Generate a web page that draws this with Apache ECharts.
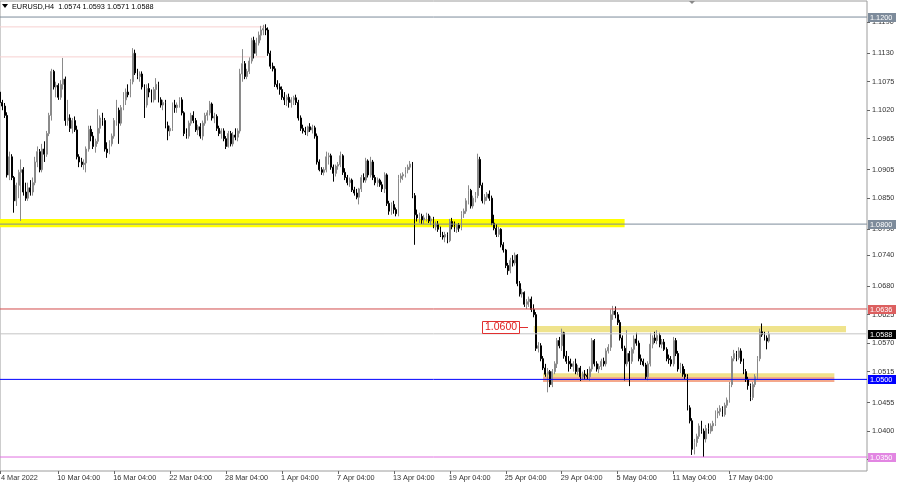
<!DOCTYPE html>
<html><head><meta charset="utf-8">
<script src="https://cdn.jsdelivr.net/npm/echarts@6/dist/echarts.min.js"></script>
<style>html,body{margin:0;padding:0;background:#fff}#c{width:900px;height:484px}</style>
</head><body><div id="c"></div>
<script>
const symbol = 'EURUSD';
const timeframe = 'H4';
// each row: [open, high, low, close], H4 bars from 4 Mar 2022 00:00
const ohlc = [
[1.1055,1.1060,1.1030,1.1035],[1.1035,1.1040,1.1020,1.1028],[1.1028,1.1034,1.1005,1.1010],[1.1010,1.1016,1.0890,1.0895],
[1.0895,1.0940,1.0885,1.0930],[1.0930,1.0935,1.0885,1.0890],[1.0890,1.0893,1.0822,1.0845],[1.0845,1.0880,1.0835,1.0875],
[1.0875,1.0905,1.0850,1.0900],[1.0900,1.0925,1.0806,1.0905],[1.0905,1.0910,1.0855,1.0862],[1.0862,1.0880,1.0845,1.0850],
[1.0850,1.0880,1.0845,1.0870],[1.0870,1.0885,1.0855,1.0862],[1.0862,1.0890,1.0855,1.0880],[1.0880,1.0930,1.0875,1.0920],
[1.0920,1.0950,1.0910,1.0940],[1.0940,1.0945,1.0900,1.0905],[1.0905,1.0955,1.0900,1.0945],[1.0945,1.0960,1.0920,1.0935],
[1.0935,1.0980,1.0930,1.0975],[1.0975,1.1015,1.0970,1.1010],[1.1010,1.1100,1.1000,1.1095],[1.1095,1.1098,1.1060,1.1065],
[1.1065,1.1075,1.1045,1.1068],[1.1068,1.1072,1.1040,1.1045],[1.1045,1.1078,1.1040,1.1070],[1.1070,1.1121,1.1060,1.1080],
[1.1080,1.1085,1.0990,1.1000],[1.1000,1.1040,1.0990,1.1005],[1.1005,1.1012,1.0978,1.0985],[1.0985,1.1005,1.0975,1.1000],
[1.1000,1.1008,1.0978,1.0982],[1.0982,1.0990,1.0925,1.0930],[1.0930,1.0935,1.0910,1.0920],[1.0920,1.0928,1.0910,1.0915],
[1.0915,1.0925,1.0905,1.0918],[1.0918,1.0950,1.0900,1.0945],[1.0945,1.0990,1.0940,1.0983],[1.0983,1.0990,1.0960,1.0970],
[1.0970,1.0978,1.0945,1.0950],[1.0950,1.0965,1.0938,1.0960],[1.0960,1.1022,1.0955,1.0985],[1.0985,1.1010,1.0975,1.1005],
[1.1005,1.1015,1.0990,1.1000],[1.1000,1.1005,1.0940,1.0945],[1.0945,1.0958,1.0928,1.0938],[1.0938,1.0962,1.0935,1.0955],
[1.0955,1.0975,1.0950,1.0970],[1.0970,1.1005,1.0965,1.1000],[1.1000,1.1040,1.0990,1.1020],[1.1020,1.1025,1.0955,1.0995],
[1.0995,1.1030,1.0990,1.1025],[1.1025,1.1055,1.1020,1.1040],[1.1040,1.1062,1.1030,1.1055],[1.1055,1.1070,1.1045,1.1050],
[1.1050,1.1080,1.1045,1.1075],[1.1075,1.1140,1.1070,1.1130],[1.1130,1.1137,1.1088,1.1092],[1.1092,1.1100,1.1080,1.1085],
[1.1085,1.1095,1.1075,1.1090],[1.1090,1.1095,1.1060,1.1065],[1.1065,1.1070,1.1005,1.1030],[1.1030,1.1070,1.1025,1.1062],
[1.1062,1.1072,1.1045,1.1055],[1.1055,1.1060,1.1035,1.1040],[1.1040,1.1065,1.1035,1.1060],[1.1060,1.1082,1.1040,1.1070],
[1.1070,1.1075,1.1035,1.1040],[1.1040,1.1045,1.1025,1.1030],[1.1030,1.1040,1.1020,1.1035],[1.1035,1.1040,1.0985,1.0990],
[1.0990,1.0998,1.0962,1.0980],[1.0980,1.0990,1.0970,1.0985],[1.0985,1.1035,1.0980,1.1030],[1.1030,1.1040,1.1015,1.1025],
[1.1025,1.1035,1.1015,1.1030],[1.1030,1.1045,1.1025,1.1040],[1.1040,1.1045,1.1010,1.1015],[1.1015,1.1018,1.0970,1.0975],
[1.0975,1.0985,1.0965,1.0970],[1.0970,1.1000,1.0965,1.0995],[1.0995,1.1015,1.0990,1.1010],[1.1010,1.1018,1.0995,1.1000],
[1.1000,1.1005,1.0978,1.0982],[1.0982,1.0992,1.0972,1.0988],[1.0988,1.0995,1.0965,1.0970],[1.0970,1.1000,1.0962,1.0995],
[1.0995,1.1015,1.0990,1.1010],[1.1010,1.1020,1.1000,1.1015],[1.1015,1.1038,1.1010,1.1032],[1.1032,1.1035,1.1000,1.1005],
[1.1005,1.1015,1.0995,1.1008],[1.1008,1.1012,1.0980,1.0985],[1.0985,1.0990,1.0970,1.0975],[1.0975,1.0985,1.0965,1.0980],
[1.0980,1.0985,1.0960,1.0965],[1.0965,1.0970,1.0945,1.0950],[1.0950,1.0980,1.0948,1.0975],[1.0975,1.0980,1.0950,1.0955],
[1.0955,1.0978,1.0950,1.0972],[1.0972,1.0985,1.0962,1.0968],[1.0968,1.0985,1.0960,1.0980],[1.0980,1.1100,1.0975,1.1090],
[1.1090,1.1138,1.1075,1.1110],[1.1110,1.1115,1.1080,1.1085],[1.1085,1.1100,1.1080,1.1095],[1.1095,1.1122,1.1090,1.1115],
[1.1115,1.1160,1.1110,1.1155],[1.1155,1.1162,1.1120,1.1130],[1.1130,1.1160,1.1125,1.1150],[1.1150,1.1172,1.1145,1.1165],
[1.1165,1.1183,1.1155,1.1175],[1.1175,1.1185,1.1165,1.1178],[1.1178,1.1186,1.1165,1.1175],[1.1175,1.1180,1.1125,1.1130],
[1.1130,1.1135,1.1100,1.1105],[1.1105,1.1112,1.1095,1.1100],[1.1100,1.1105,1.1065,1.1070],[1.1070,1.1078,1.1060,1.1065],
[1.1065,1.1072,1.1050,1.1060],[1.1060,1.1066,1.1040,1.1045],[1.1045,1.1055,1.1030,1.1040],[1.1040,1.1050,1.1028,1.1045],
[1.1045,1.1052,1.1025,1.1035],[1.1035,1.1045,1.1025,1.1040],[1.1040,1.1048,1.1030,1.1044],[1.1044,1.1050,1.1030,1.1035],
[1.1035,1.1040,1.1000,1.1005],[1.1005,1.1010,1.0980,1.0985],[1.0985,1.0992,1.0975,1.0980],[1.0980,1.0988,1.0972,1.0978],
[1.0978,1.0990,1.0970,1.0988],[1.0988,1.0995,1.0978,1.0982],[1.0982,1.0992,1.0975,1.0986],[1.0986,1.0990,1.0965,1.0970],
[1.0970,1.0975,1.0915,1.0920],[1.0920,1.0925,1.0902,1.0905],[1.0905,1.0910,1.0895,1.0900],[1.0900,1.0910,1.0894,1.0905],
[1.0905,1.0940,1.0900,1.0930],[1.0930,1.0938,1.0915,1.0932],[1.0932,1.0936,1.0905,1.0910],[1.0910,1.0915,1.0882,1.0898],
[1.0898,1.0915,1.0892,1.0912],[1.0912,1.0920,1.0905,1.0915],[1.0915,1.0940,1.0910,1.0932],[1.0932,1.0935,1.0895,1.0900],
[1.0900,1.0908,1.0885,1.0890],[1.0890,1.0895,1.0875,1.0880],[1.0880,1.0890,1.0872,1.0885],[1.0885,1.0888,1.0862,1.0866],
[1.0866,1.0872,1.0855,1.0860],[1.0860,1.0868,1.0848,1.0852],[1.0852,1.0870,1.0838,1.0868],[1.0868,1.0895,1.0862,1.0890],
[1.0890,1.0898,1.0880,1.0885],[1.0885,1.0928,1.0880,1.0922],[1.0922,1.0925,1.0890,1.0895],[1.0895,1.0930,1.0890,1.0920],
[1.0920,1.0924,1.0885,1.0890],[1.0890,1.0895,1.0875,1.0880],[1.0880,1.0890,1.0872,1.0885],[1.0885,1.0888,1.0872,1.0876],
[1.0876,1.0882,1.0862,1.0868],[1.0868,1.0900,1.0860,1.0895],[1.0895,1.0898,1.0835,1.0840],[1.0840,1.0845,1.0818,1.0825],
[1.0825,1.0842,1.0818,1.0838],[1.0838,1.0845,1.0820,1.0828],[1.0828,1.0832,1.0815,1.0820],[1.0820,1.0895,1.0815,1.0888],
[1.0888,1.0898,1.0880,1.0893],[1.0893,1.0900,1.0885,1.0896],[1.0896,1.0910,1.0890,1.0905],[1.0905,1.0915,1.0898,1.0910],
[1.0910,1.0922,1.0905,1.0916],[1.0916,1.0920,1.0850,1.0855],[1.0855,1.0860,1.0760,1.0818],[1.0818,1.0828,1.0805,1.0812],
[1.0812,1.0822,1.0802,1.0815],[1.0815,1.0820,1.0800,1.0808],[1.0808,1.0818,1.0800,1.0812],[1.0812,1.0822,1.0805,1.0816],
[1.0816,1.0820,1.0802,1.0806],[1.0806,1.0815,1.0798,1.0810],[1.0810,1.0814,1.0792,1.0795],[1.0795,1.0805,1.0788,1.0800],
[1.0800,1.0806,1.0785,1.0790],[1.0790,1.0795,1.0775,1.0778],[1.0778,1.0785,1.0770,1.0775],[1.0775,1.0785,1.0765,1.0780],
[1.0780,1.0784,1.0763,1.0768],[1.0768,1.0810,1.0765,1.0805],[1.0805,1.0812,1.0790,1.0795],[1.0795,1.0805,1.0785,1.0790],
[1.0790,1.0800,1.0783,1.0798],[1.0798,1.0802,1.0785,1.0792],[1.0792,1.0825,1.0788,1.0820],[1.0820,1.0830,1.0812,1.0825],
[1.0825,1.0850,1.0820,1.0845],[1.0845,1.0875,1.0838,1.0865],[1.0865,1.0868,1.0830,1.0835],[1.0835,1.0855,1.0830,1.0850],
[1.0850,1.0862,1.0842,1.0855],[1.0855,1.0936,1.0850,1.0925],[1.0925,1.0930,1.0870,1.0875],[1.0875,1.0880,1.0840,1.0845],
[1.0845,1.0858,1.0838,1.0852],[1.0852,1.0862,1.0845,1.0858],[1.0858,1.0865,1.0845,1.0850],[1.0850,1.0855,1.0798,1.0802],
[1.0802,1.0818,1.0788,1.0792],[1.0792,1.0800,1.0775,1.0780],[1.0780,1.0795,1.0775,1.0790],[1.0790,1.0792,1.0755,1.0760],
[1.0760,1.0765,1.0745,1.0750],[1.0750,1.0752,1.0715,1.0720],[1.0720,1.0725,1.0702,1.0710],[1.0710,1.0735,1.0705,1.0730],
[1.0730,1.0740,1.0718,1.0725],[1.0725,1.0745,1.0720,1.0740],[1.0740,1.0742,1.0680,1.0685],[1.0685,1.0690,1.0660,1.0665],
[1.0665,1.0675,1.0658,1.0668],[1.0668,1.0670,1.0640,1.0645],[1.0645,1.0655,1.0636,1.0650],[1.0650,1.0660,1.0640,1.0655],
[1.0655,1.0660,1.0630,1.0635],[1.0635,1.0645,1.0620,1.0625],[1.0625,1.0630,1.0555,1.0560],[1.0560,1.0572,1.0552,1.0565],
[1.0565,1.0570,1.0535,1.0540],[1.0540,1.0545,1.0518,1.0522],[1.0522,1.0530,1.0505,1.0510],[1.0510,1.0522,1.0475,1.0515],
[1.0515,1.0518,1.0485,1.0490],[1.0490,1.0520,1.0485,1.0515],[1.0515,1.0535,1.0510,1.0530],[1.0530,1.0580,1.0522,1.0575],
[1.0575,1.0582,1.0560,1.0565],[1.0565,1.0598,1.0555,1.0590],[1.0590,1.0592,1.0540,1.0545],[1.0545,1.0555,1.0530,1.0535],
[1.0535,1.0545,1.0515,1.0530],[1.0530,1.0540,1.0520,1.0525],[1.0525,1.0535,1.0515,1.0530],[1.0530,1.0540,1.0510,1.0515],
[1.0515,1.0528,1.0508,1.0522],[1.0522,1.0526,1.0497,1.0505],[1.0505,1.0515,1.0500,1.0510],[1.0510,1.0518,1.0500,1.0508],
[1.0508,1.0520,1.0500,1.0505],[1.0505,1.0525,1.0497,1.0520],[1.0520,1.0580,1.0515,1.0575],[1.0575,1.0578,1.0525,1.0530],
[1.0530,1.0535,1.0515,1.0520],[1.0520,1.0530,1.0512,1.0525],[1.0525,1.0540,1.0518,1.0535],[1.0535,1.0542,1.0525,1.0530],
[1.0530,1.0560,1.0525,1.0555],[1.0555,1.0568,1.0550,1.0562],[1.0562,1.0635,1.0555,1.0625],[1.0625,1.0642,1.0615,1.0632],
[1.0632,1.0641,1.0618,1.0625],[1.0625,1.0630,1.0605,1.0610],[1.0610,1.0615,1.0575,1.0580],[1.0580,1.0585,1.0555,1.0560],
[1.0560,1.0565,1.0498,1.0530],[1.0530,1.0595,1.0525,1.0550],[1.0550,1.0555,1.0487,1.0535],[1.0535,1.0562,1.0530,1.0558],
[1.0558,1.0585,1.0550,1.0578],[1.0578,1.0590,1.0565,1.0570],[1.0570,1.0575,1.0535,1.0540],[1.0540,1.0548,1.0528,1.0535],
[1.0535,1.0540,1.0525,1.0528],[1.0528,1.0532,1.0500,1.0505],[1.0505,1.0535,1.0498,1.0530],[1.0530,1.0590,1.0525,1.0568],
[1.0568,1.0585,1.0560,1.0580],[1.0580,1.0592,1.0570,1.0575],[1.0575,1.0595,1.0568,1.0585],[1.0585,1.0590,1.0562,1.0568],
[1.0568,1.0578,1.0560,1.0572],[1.0572,1.0578,1.0555,1.0558],[1.0558,1.0562,1.0535,1.0540],[1.0540,1.0548,1.0530,1.0538],
[1.0538,1.0545,1.0525,1.0530],[1.0530,1.0582,1.0525,1.0575],[1.0575,1.0580,1.0545,1.0550],[1.0550,1.0555,1.0515,1.0520],
[1.0520,1.0532,1.0512,1.0525],[1.0525,1.0530,1.0505,1.0510],[1.0510,1.0520,1.0500,1.0505],[1.0505,1.0510,1.0440,1.0445],
[1.0445,1.0450,1.0415,1.0420],[1.0420,1.0425,1.0354,1.0365],[1.0365,1.0385,1.0355,1.0378],[1.0378,1.0395,1.0370,1.0390],
[1.0390,1.0415,1.0385,1.0410],[1.0410,1.0420,1.0395,1.0400],[1.0400,1.0405,1.0350,1.0385],[1.0385,1.0412,1.0378,1.0405],
[1.0405,1.0415,1.0395,1.0400],[1.0400,1.0415,1.0395,1.0410],[1.0410,1.0420,1.0400,1.0415],[1.0415,1.0440,1.0410,1.0435],
[1.0435,1.0445,1.0425,1.0438],[1.0438,1.0450,1.0430,1.0444],[1.0444,1.0448,1.0428,1.0432],[1.0432,1.0455,1.0428,1.0450],
[1.0450,1.0465,1.0445,1.0460],[1.0460,1.0495,1.0455,1.0490],[1.0490,1.0545,1.0485,1.0540],[1.0540,1.0557,1.0535,1.0550],
[1.0550,1.0555,1.0535,1.0542],[1.0542,1.0562,1.0538,1.0555],[1.0555,1.0560,1.0530,1.0535],[1.0535,1.0540,1.0510,1.0515],
[1.0515,1.0520,1.0495,1.0500],[1.0500,1.0505,1.0480,1.0488],[1.0488,1.0492,1.0458,1.0465],[1.0465,1.0495,1.0460,1.0490],
[1.0490,1.0510,1.0485,1.0505],[1.0505,1.0545,1.0500,1.0540],[1.0540,1.0598,1.0535,1.0592],[1.0592,1.0608,1.0582,1.0586],
[1.0586,1.0592,1.0575,1.0580],[1.0580,1.0585,1.0558,1.0574],[1.0574,1.0593,1.0571,1.0588]
];
const futureBars = 42;
const priceTicks = [1.0345,1.0400,1.0455,1.0515,1.0570,1.0625,1.0680,1.0740,1.0790,1.0850,1.0905,1.0965,1.1020,1.1075,1.1130,1.1190];
const tickAt = ['4 Mar 00:00','10 Mar 04:00','16 Mar 04:00','22 Mar 04:00','28 Mar 04:00','1 Apr 04:00','7 Apr 04:00','13 Apr 04:00','19 Apr 04:00','25 Apr 04:00','29 Apr 04:00','5 May 04:00','11 May 04:00','17 May 04:00'];
const tickText = ['4 Mar 2022','10 Mar 04:00','16 Mar 04:00','22 Mar 04:00','28 Mar 04:00','1 Apr 04:00','7 Apr 04:00','13 Apr 04:00','19 Apr 04:00','25 Apr 04:00','29 Apr 04:00','5 May 04:00','11 May 04:00','17 May 04:00'];
const levelValues = [1.1200, 1.0800, 1.0636, 1.0588, 1.0500, 1.0350];
const pinkLevels = [1.1181, 1.1123];
const pinkEndBar = 114;
const supportBand = [1.0810, 1.0794], supportBandBars = [0, 268];
const band1060 = [1.0603, 1.0591], band1060Bars = [229, 363];
const zoneUpper = [1.0512, 1.05045], zoneLower = [1.05045, 1.0495], zoneBars = [233, 358];
const noteText = '1.0600', noteValue = 1.0600, noteBar = 223;

const months = ['Jan','Feb','Mar','Apr','May','Jun','Jul','Aug','Sep','Oct','Nov','Dec'];
const cats = [];
let t = Date.UTC(2022, 2, 4, 0);
while (cats.length < ohlc.length + futureBars) {
  const d = new Date(t);
  const wd = d.getUTCDay();
  if (wd !== 0 && wd !== 6) cats.push(d.getUTCDate() + ' ' + months[d.getUTCMonth()] + ' ' + String(d.getUTCHours()).padStart(2,'0') + ':00');
  t += 4 * 3600 * 1000;
}
const lastIdx = cats.length - 1;
const lastCat = cats[lastIdx];
const candleData = ohlc.map(r => [r[0], r[3], r[2], r[1]]);
const FONT = 'Liberation Sans';
const FS = 7.3;
const levelColors = ['#7d8b9b','#7d8b9b','#d24c4c','#c4c4c4','#0000ff','#e070e0'];
const levelLabelBg = ['#7d8b9b','#7d8b9b','#dc5f5f','#000000','#0000ff','#e286e2'];

const hLine = (v, color, fromCat, toCat, z) => ({
  type: 'line', data: [[fromCat, v], [toCat, v]], z: z, silent: true, symbol: 'none',
  lineStyle: {color: color, width: 1, type: 'solid'}, itemStyle: {color: color}, emphasis: {disabled: true}
});
const levelSeries = levelValues.map((v, i) => hLine(v, levelColors[i], cats[0], lastCat, 4));
const pinkSeries = pinkLevels.map(v => hLine(v, '#f7d0d0', cats[0], cats[pinkEndBar], 1));

const chart = echarts.init(document.getElementById('c'), null, {renderer: 'canvas'});
chart.setOption({
  animation: false,
  backgroundColor: '#fff',
  grid: {left: 0, right: 33, top: 1, bottom: 13, show: true, borderColor: '#9c9c9c', borderWidth: 1, backgroundColor: '#fff'},
  xAxis: {
    type: 'category', data: cats, boundaryGap: false,
    axisLine: {show: false},
    axisTick: {show: true, interval: (i, v) => tickAt.includes(v), length: 3, lineStyle: {color: '#666'}},
    axisLabel: {show: false},
    splitLine: {show: false}
  },
  yAxis: {
    type: 'value', position: 'right', min: 1.0323, max: 1.1231, scale: true,
    splitLine: {show: false}, axisLine: {show: false},
    axisTick: {show: true, customValues: priceTicks, length: 3, lineStyle: {color: '#666'}},
    axisLabel: {customValues: priceTicks, formatter: v => v.toFixed(4), margin: 5, fontSize: FS, color: '#333', fontFamily: FONT}
  },
  series: [
    {type: 'line', data: [], z: 1, silent: true,
     markArea: {silent: true, data: [
       [{xAxis: cats[supportBandBars[0]], yAxis: supportBand[0], itemStyle: {color: '#ffff00'}}, {xAxis: cats[supportBandBars[1]], yAxis: supportBand[1]}],
       [{xAxis: cats[band1060Bars[0]], yAxis: band1060[0], itemStyle: {color: '#efe38c'}}, {xAxis: cats[band1060Bars[1]], yAxis: band1060[1]}],
       [{xAxis: cats[zoneBars[0]], yAxis: zoneUpper[0], itemStyle: {color: '#f1e18a'}}, {xAxis: cats[zoneBars[1]], yAxis: zoneUpper[1]}],
       [{xAxis: cats[zoneBars[0]], yAxis: zoneLower[0], itemStyle: {color: '#f4a88c'}}, {xAxis: cats[zoneBars[1]], yAxis: zoneLower[1]}]
     ]}},
    ...pinkSeries,
    {type: 'candlestick', data: candleData, z: 2, barWidth: 1.4, silent: true,
     itemStyle: {color: '#a8a8a8', color0: '#000000', borderColor: '#8a8a8a', borderColor0: '#000000', borderWidth: 1}},
    ...levelSeries
  ]
});

const last = ohlc[ohlc.length - 1];
const px = (i, v) => chart.convertToPixel({gridIndex: 0}, [cats[i], v]);
const p = px(noteBar, noteValue);
const gRight = px(lastIdx, levelValues[0])[0];
const gBottom = px(0, 1.0323)[1];
const graphics = [
  {type: 'polygon', shape: {points: [[2, 4], [8, 4], [5, 8]]}, style: {fill: '#000'}, z: 10},
  {type: 'text', left: 12, top: 3, style: {text: symbol + ',' + timeframe + '  ' + last.map(v => v.toFixed(4)).join(' '), fontSize: FS, fontFamily: FONT, fill: '#000'}, z: 10},
  {type: 'polygon', shape: {points: [[689, 1], [695, 1], [692, 4]]}, style: {fill: '#888'}, z: 10},
  {type: 'rect', shape: {x: Math.round(p[0]) - 37.5, y: Math.round(p[1]) - 6.5, width: 37, height: 12}, style: {fill: '#fff', stroke: '#e03030', lineWidth: 1}, z: 10},
  {type: 'text', x: Math.round(p[0]) - 19, y: Math.round(p[1]) - 0.5, style: {text: noteText, fontSize: 10.5, fontFamily: FONT, fill: '#e02020', align: 'center', verticalAlign: 'middle'}, z: 11},
  {type: 'line', shape: {x1: Math.round(p[0]) - 0.5, y1: Math.round(p[1]) - 0.5, x2: Math.round(p[0]) + 8, y2: Math.round(p[1]) - 0.5}, style: {stroke: '#e03030', lineWidth: 1}, z: 10}
];
levelValues.forEach((v, i) => {
  const y = px(lastIdx, v)[1];
  graphics.push({type: 'rect', shape: {x: gRight + 1, y: Math.round(y) - 4, width: 28, height: 9}, style: {fill: levelLabelBg[i]}, z: 20});
  graphics.push({type: 'text', x: gRight + 3, y: Math.round(y) + 0.5, style: {text: v.toFixed(4), fontSize: FS, fontFamily: FONT, fill: '#fff', verticalAlign: 'middle'}, z: 21});
});
tickAt.forEach((c, k) => {
  const x = chart.convertToPixel({gridIndex: 0}, [c, 1.1])[0];
  graphics.push({type: 'text', x: Math.max(1, x - 1), y: gBottom + 3, style: {text: tickText[k], fontSize: FS, fontFamily: FONT, fill: '#333', verticalAlign: 'top'}, z: 10});
});
chart.setOption({graphic: graphics});
</script></body></html>
